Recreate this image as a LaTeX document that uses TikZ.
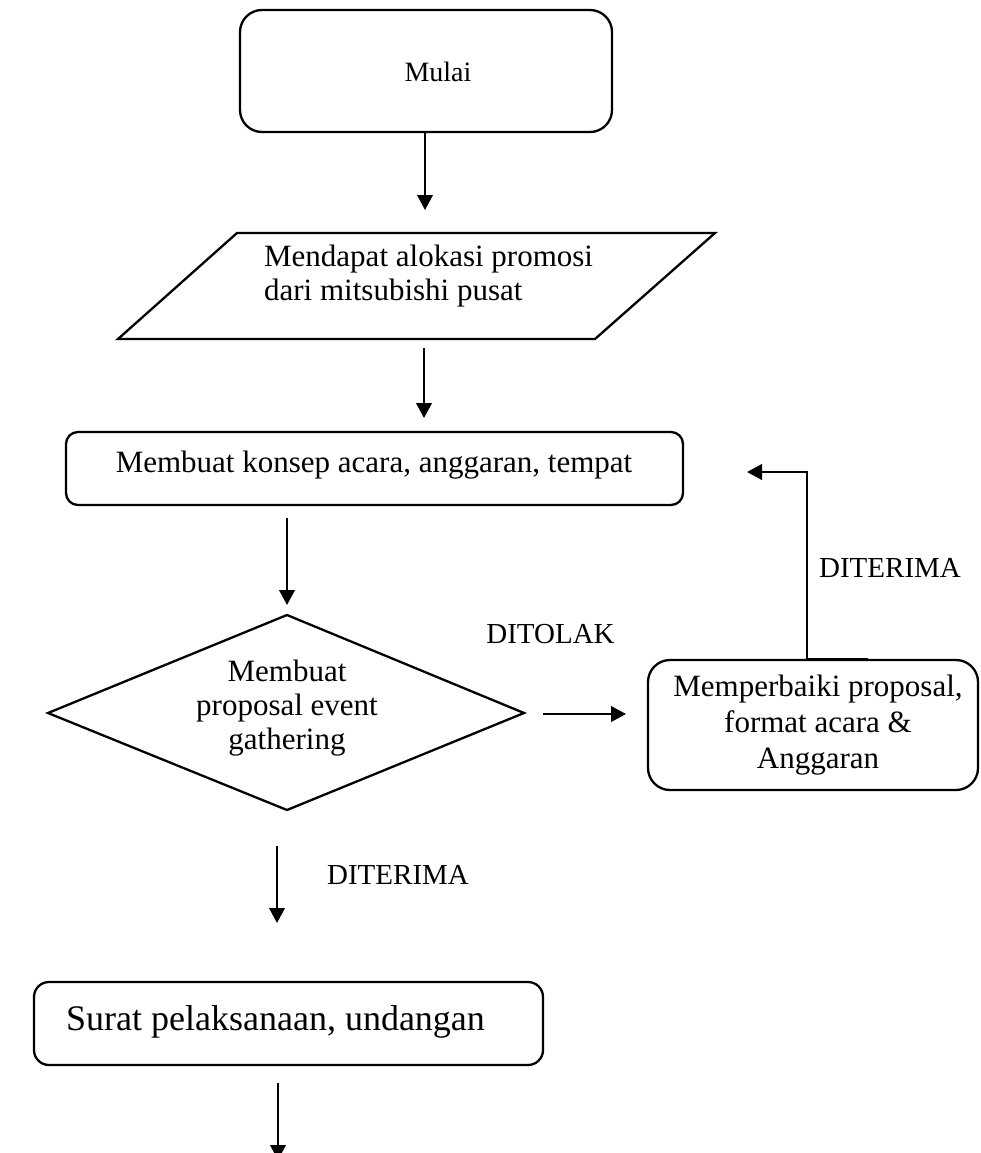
\documentclass[tikz,border=0pt]{standalone}
\usepackage{fontspec}
\setmainfont{Liberation Serif}
\usetikzlibrary{arrows.meta}
\begin{document}
\begin{tikzpicture}[x=1pt,y=-1pt,
  line width=2.3pt, line join=miter,
  box/.style={draw, rounded corners=#1, inner sep=0pt, line width=2.3pt},
  box/.default=12pt,
  flow/.style={-{Triangle[length=15pt,width=15.5pt]}, line width=2.3pt},
  txt/.style={inner sep=0pt, font=\fontsize{31}{34}\selectfont},
  lbl/.style={inner sep=0pt, font=\fontsize{29}{33}\selectfont, anchor=base}
]
\useasboundingbox (0,0) rectangle (980,1153);

% start terminal
\node[box=22pt, minimum width=372pt, minimum height=122pt] (start) at (426,71) {};
\node[inner sep=0pt, font=\fontsize{28}{31}\selectfont, anchor=base] (startT) at (438,82) {Mulai};

% input: allocation from head office
\draw (118,339) -- (237,233) -- (715,233) -- (595,339) -- cycle;
\node[txt, align=left, anchor=north west] (inT) at (263,244)
  {Mendapat alokasi promosi\\dari mitsubishi pusat};

% concept box
\node[box=12pt, minimum width=617pt, minimum height=73pt] (concept) at (374.5,468.5) {};
\node[txt, anchor=base] (conceptT) at (374,472) {Membuat konsep acara, anggaran, tempat};

% decision
\coordinate (dTop) at (287,615);
\coordinate (dRight) at (524,713);
\coordinate (dBot) at (287,810);
\coordinate (dLeft) at (48,713);
\draw (dTop) -- (dRight) -- (dBot) -- (dLeft) -- cycle;
\node[txt, align=center, anchor=north] (decT) at (287,659)
  {Membuat\\proposal event\\gathering};

% revision box
\node[box=22pt, minimum width=330pt, minimum height=130pt] (revise) at (813,725) {};
\node[txt, align=center, anchor=north, font=\fontsize{31}{36}\selectfont] (reviseT) at (818,674)
  {Memperbaiki proposal,\\format acara \&\\Anggaran};

% letters box
\node[box=15pt, minimum width=509pt, minimum height=83pt] (letters) at (288.5,1023.5) {};
\node[inner sep=0pt, font=\fontsize{36}{40}\selectfont, anchor=base] (lettersT) at (275.5,1030)
  {Surat pelaksanaan, undangan};

% labels
\node[lbl] (rejected) at (550.5,643) {DITOLAK};
\node[lbl] (acceptR) at (890,577) {DITERIMA};
\node[lbl] (acceptD) at (398,884) {DITERIMA};

% connectors
\coordinate (a1s) at (425,132);  \coordinate (a1e) at (425,210);
\coordinate (a2s) at (424,348);  \coordinate (a2e) at (424,418);
\coordinate (a3s) at (287,518);  \coordinate (a3e) at (287,605);
\coordinate (a4s) at (543,714);  \coordinate (a4e) at (626,714);
\coordinate (a5s) at (277,846);  \coordinate (a5e) at (277,923);
\coordinate (a6s) at (278,1083); \coordinate (a6e) at (278,1160);
\coordinate (fbS) at (868,659);  \coordinate (fbK) at (807,659);
\coordinate (fbE) at (747,472);

\draw[flow] (a1s) -- (a1e);
\draw[flow] (a2s) -- (a2e);
\draw[flow] (a3s) -- (a3e);
\draw[flow] (a4s) -- (a4e);
\draw[flow] (a5s) -- (a5e);
\draw[flow] (a6s) -- (a6e);
\draw[flow] (fbS) -- (fbK) |- (fbE);
\end{tikzpicture}
\end{document}
